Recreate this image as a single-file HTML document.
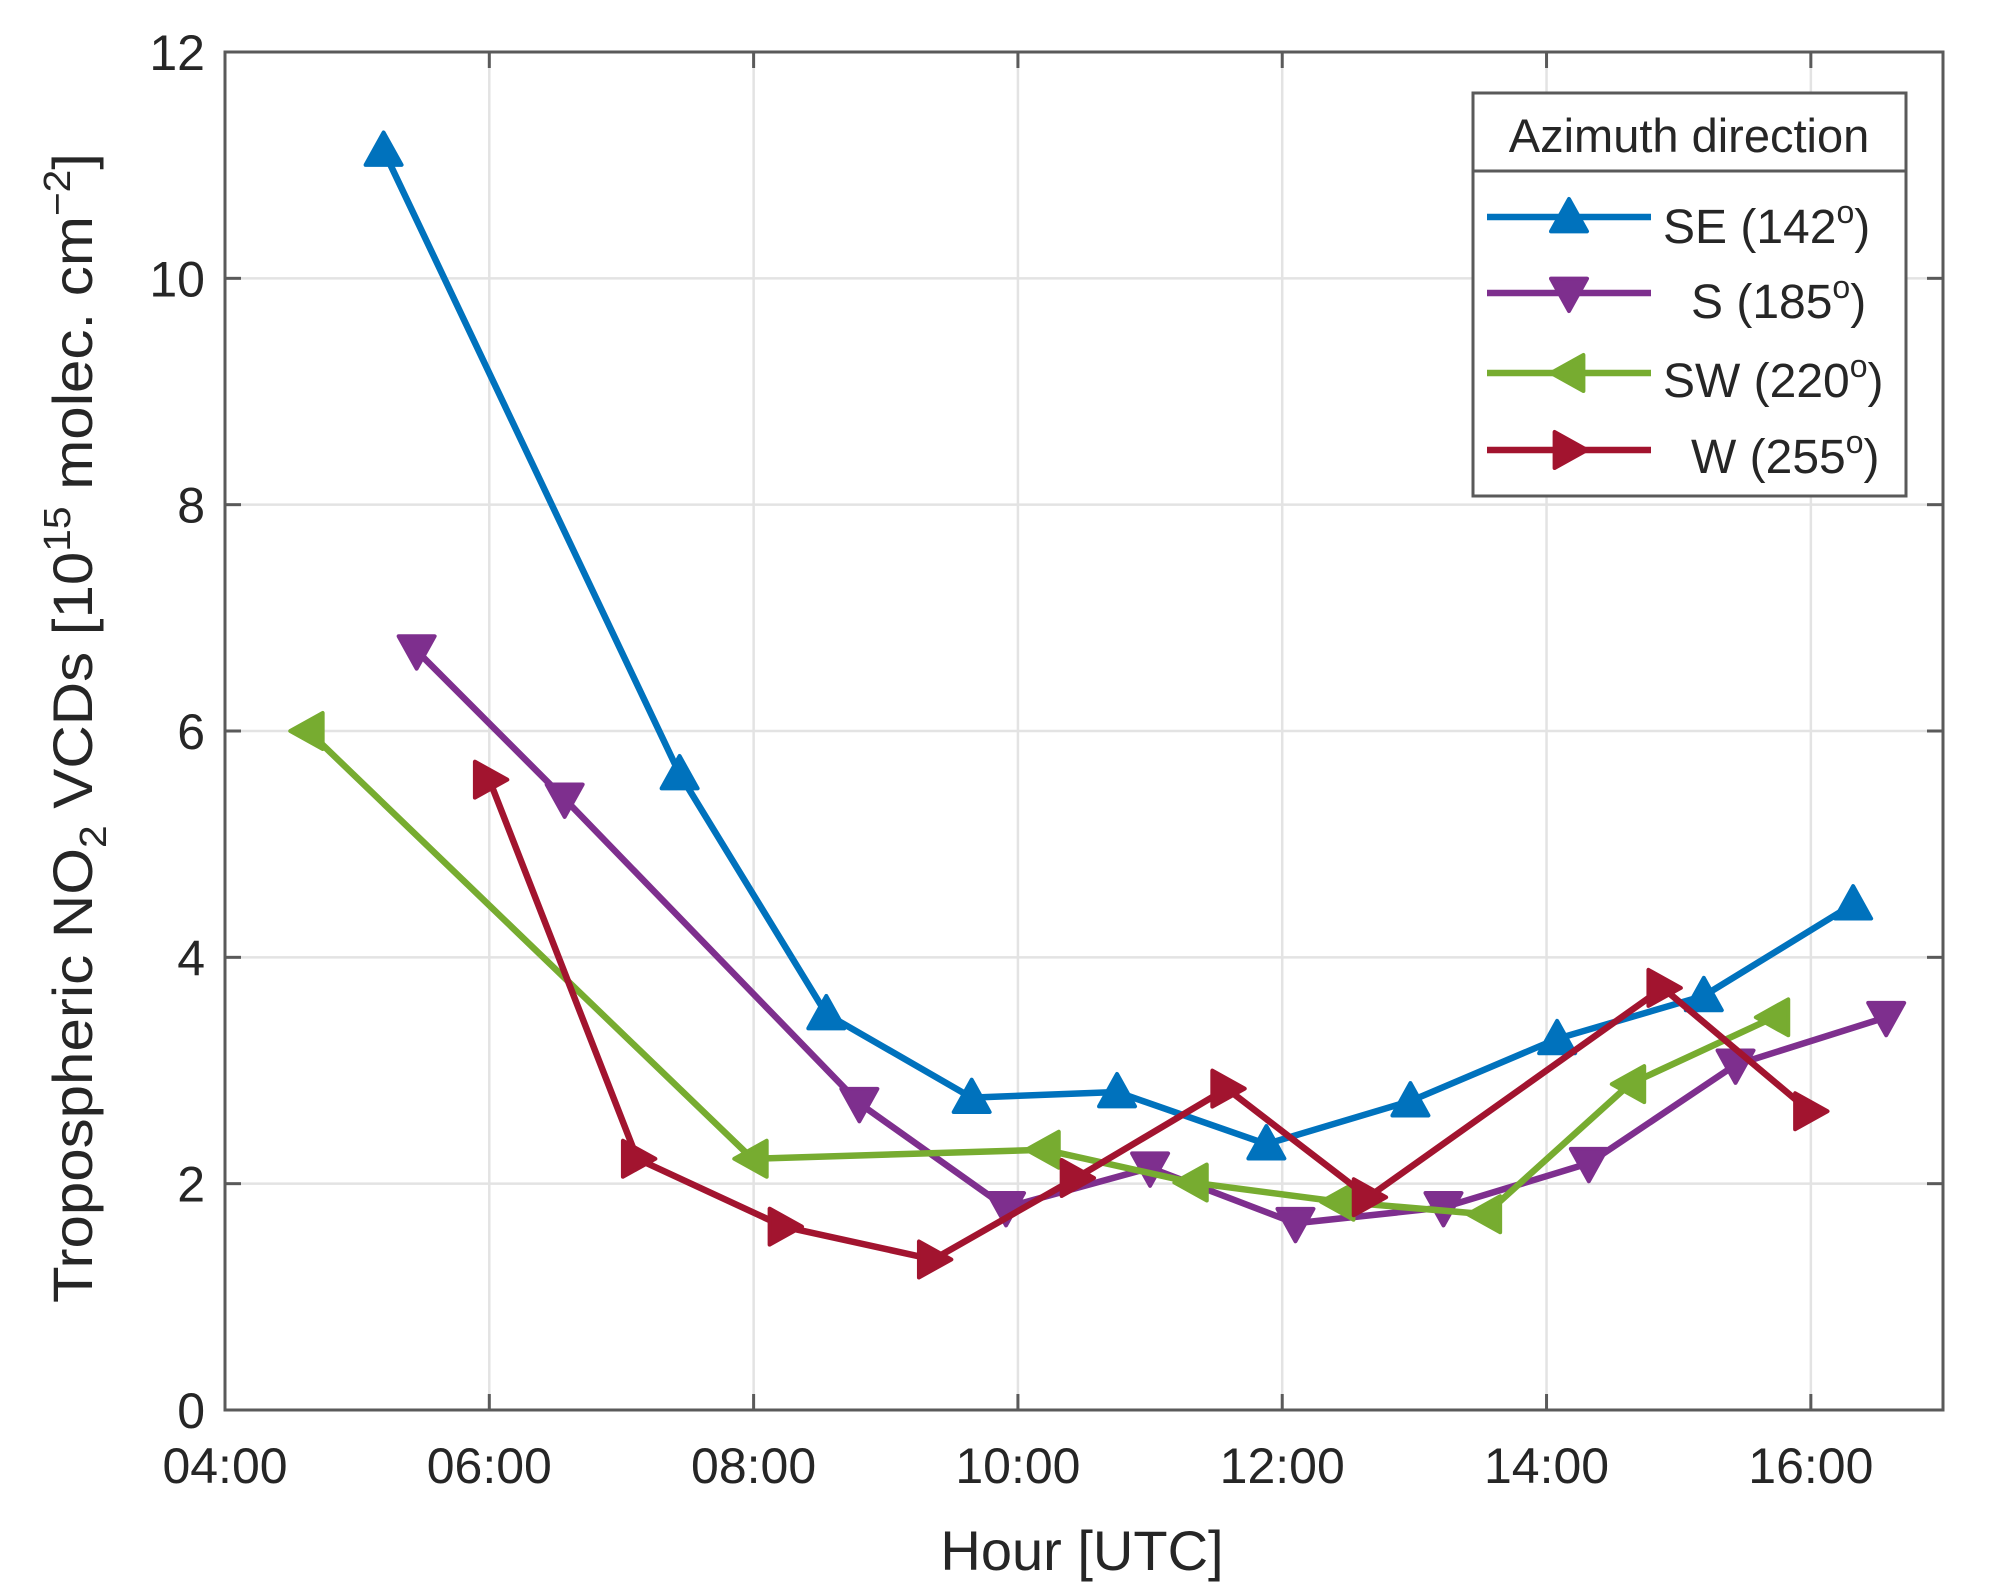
<!DOCTYPE html>
<html><head><meta charset="utf-8"><style>
html,body{margin:0;padding:0;background:#fff;}
svg{display:block;}
text{font-family:"Liberation Sans",Arial,sans-serif;fill:#262626;}
</style></head><body>
<svg id="s" width="2008" height="1596" viewBox="0 0 2008 1596" xmlns="http://www.w3.org/2000/svg">
<g id="grid" stroke="#e3e3e3" stroke-width="2.5"></g>
<rect x="225" y="52" width="1718" height="1358" fill="none" stroke="#5a5a5a" stroke-width="3"/>
<g id="ticks" stroke="#5a5a5a" stroke-width="3"></g>
<g id="lab" font-size="50"></g>
<text x="1082" y="1570" font-size="56" text-anchor="middle">Hour [UTC]</text>
<text transform="translate(92,728) rotate(-90)" font-size="56" text-anchor="middle" textLength="1150" lengthAdjust="spacingAndGlyphs">Tropospheric NO<tspan font-size="38" dy="14">2</tspan><tspan dy="-14"> VCDs [10</tspan><tspan font-size="38" dy="-22">15</tspan><tspan dy="22"> molec. cm</tspan><tspan font-size="38" dy="-22">−2</tspan><tspan dy="22">]</tspan></text>
<g id="series"></g>
<rect x="1473" y="93" width="433" height="403" fill="#fff" stroke="#5a5a5a" stroke-width="3"/>
<line x1="1473" y1="171" x2="1906" y2="171" stroke="#5a5a5a" stroke-width="3"/>
<text x="1689" y="152" font-size="47" text-anchor="middle">Azimuth direction</text>
<g id="leg"></g>
<g font-size="48">
<text x="1663" y="243">SE (142<tspan font-size="32" dy="-20">o</tspan><tspan dy="20">)</tspan></text>
<text x="1691" y="318">S (185<tspan font-size="32" dy="-20">o</tspan><tspan dy="20">)</tspan></text>
<text x="1663" y="397">SW (220<tspan font-size="32" dy="-20">o</tspan><tspan dy="20">)</tspan></text>
<text x="1691" y="473">W (255<tspan font-size="32" dy="-20">o</tspan><tspan dy="20">)</tspan></text>
</g>
</svg>
<script>
var NS="http://www.w3.org/2000/svg";
function X(h){return 225+(h-4)*1718/13;}
function Y(v){return 1410-v*1358/12;}
function el(p,t,a,txt){var e=document.createElementNS(NS,t);for(var k in a)e.setAttribute(k,a[k]);if(txt!==undefined)e.textContent=txt;document.getElementById(p).appendChild(e);return e;}
for(var h=6;h<=16;h+=2){el("grid","line",{x1:X(h),y1:52,x2:X(h),y2:1410});}
for(var v=2;v<=10;v+=2){el("grid","line",{x1:225,y1:Y(v),x2:1943,y2:Y(v)});}
for(var h=4;h<=16;h+=2){var hs=(h<10?"0":"")+h+":00";el("lab","text",{x:X(h),y:1483,"text-anchor":"middle"},hs);
 el("ticks","line",{x1:X(h),y1:1410,x2:X(h),y2:1394});el("ticks","line",{x1:X(h),y1:52,x2:X(h),y2:68});}
for(var v=0;v<=12;v+=2){el("lab","text",{x:205,y:Y(v)+18,"text-anchor":"end"},String(v));
 el("ticks","line",{x1:225,y1:Y(v),x2:241,y2:Y(v)});el("ticks","line",{x1:1943,y1:Y(v),x2:1927,y2:Y(v)});}
function marker(g,x,y,type,c){var s=18,p;
 if(type=="up")p=[[x,y-s],[x+s,y+s*0.8],[x-s,y+s*0.8]];
 if(type=="down")p=[[x,y+s],[x+s,y-s*0.8],[x-s,y-s*0.8]];
 if(type=="left")p=[[x-s,y],[x+s*0.8,y-s],[x+s*0.8,y+s]];
 if(type=="right")p=[[x+s,y],[x-s*0.8,y-s],[x-s*0.8,y+s]];
 el(g,"polygon",{points:p.map(function(q){return q.join(",")}).join(" "),fill:c,stroke:c,"stroke-width":4,"stroke-linejoin":"round"});}
var S=[
 {c:"#0072BD",m:"up",d:[[5.2,11.13],[7.44,5.62],[8.55,3.5],[9.65,2.76],[10.75,2.81],[11.88,2.35],[12.97,2.73],[14.08,3.28],[15.19,3.66],[16.32,4.47]]},
 {c:"#7E2F8E",m:"down",d:[[5.45,6.71],[6.57,5.4],[8.8,2.71],[9.91,1.79],[11.0,2.14],[12.1,1.65],[13.22,1.79],[14.32,2.18],[15.43,3.05],[16.57,3.47]]},
 {c:"#77AC30",m:"left",d:[[4.63,6.0],[7.99,2.22],[10.2,2.3],[11.32,2.01],[12.43,1.84],[13.54,1.73],[14.63,2.88],[15.72,3.47]]},
 {c:"#A2142F",m:"right",d:[[6.0,5.57],[7.12,2.22],[8.23,1.62],[9.36,1.33],[10.44,2.05],[11.58,2.84],[12.65,1.88],[14.88,3.73],[15.99,2.64]]}
];
S.forEach(function(s){
 el("series","polyline",{points:s.d.map(function(q){return X(q[0])+","+Y(q[1])}).join(" "),fill:"none",stroke:s.c,"stroke-width":6.5,"stroke-linejoin":"round"});
 s.d.forEach(function(q){marker("series",X(q[0]),Y(q[1]),s.m,s.c);});
});
var ly=[217,293,373,450];
S.forEach(function(s,i){el("leg","line",{x1:1487,y1:ly[i],x2:1651,y2:ly[i],stroke:s.c,"stroke-width":6.5});marker("leg",1569,ly[i],s.m,s.c);});
</script>
</body></html>
